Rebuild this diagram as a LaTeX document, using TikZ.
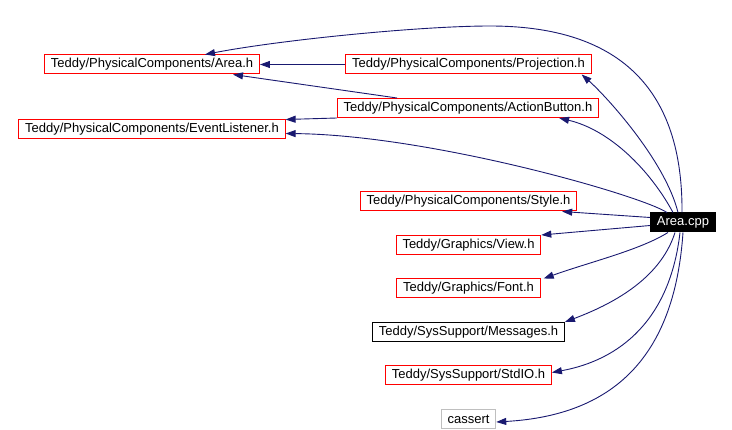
\documentclass[tikz,border=0pt]{standalone}
\usepackage{fontspec}
\setmainfont{Liberation Sans}
\usetikzlibrary{arrows.meta,positioning}
\definecolor{edgeblue}{HTML}{191970}
\definecolor{boxred}{HTML}{FF0000}
\definecolor{boxgray}{HTML}{BFBFBF}
\tikzset{
  header/.style={
    rectangle,
    draw=boxred,
    line width=1pt,
    fill=white,
    inner xsep=6.3pt,
    inner ysep=2pt,
    minimum height=19pt,
    font=\fontsize{13}{15}\selectfont
  },
  plainheader/.style={header, draw=black},
  sysheader/.style={header, draw=boxgray},
  source/.style={header, draw=black, fill=black, text=white},
  dep/.style={-{Triangle[length=10pt,width=7pt]}, draw=edgeblue, line width=0.9pt}
}

\begin{document}
\begin{tikzpicture}[x=1pt, y=-1pt, node distance=23.5pt]
  \useasboundingbox (0,0) rectangle (732,430);
  \node[source] (cpp) at (683,222.5) {Area.cpp};
  \node[header] (areah) at (152,64.5) {Teddy/PhysicalComponents/Area.h};
  \node[header] (proj) at (468.5,64.5) {Teddy/PhysicalComponents/Projection.h};
  \node[header] (action) at (468,108) {Teddy/PhysicalComponents/ActionButton.h};
  \node[header] (evt) at (152,129.5) {Teddy/PhysicalComponents/EventListener.h};
  \node[header] (style) at (468.5,201.5) {Teddy/PhysicalComponents/Style.h};
  \node[header, below=of style] (view) {Teddy/Graphics/View.h};
  \node[header, below=of view] (font) {Teddy/Graphics/Font.h};
  \node[plainheader, below=of font] (msg) {Teddy/SysSupport/Messages.h};
  \node[header, below=of msg] (stdio) {Teddy/SysSupport/StdIO.h};
  \node[sysheader, below=of stdio] (cassert) {cassert};
  \coordinate (bend) at (490,26);

  % includes of Area.cpp
  \draw[dep] ([xshift=-1pt]cpp.north) .. controls (683,80) and (610,26) .. (bend)
    .. controls (420,26) and (280,40) .. ([xshift=53pt]areah.north);
  \draw[dep] ([xshift=-5pt]cpp.north) .. controls (665,160) and (605,95) .. ([xshift=-10pt]proj.south east);
  \draw[dep] ([xshift=-10pt]cpp.north) .. controls (650,170) and (610,130) .. ([xshift=-40pt]action.south east);
  \draw[dep] ([xshift=-16pt]cpp.north) .. controls (640,195) and (430,135) .. ([yshift=-4pt]evt.east);
  \draw[dep] ([yshift=5pt]cpp.west) -- ([xshift=-15pt]style.south east);
  \draw[dep] ([yshift=-3pt]cpp.west) -- (view.north east);
  \draw[dep] ([xshift=-15pt]cpp.south) .. controls (640,250) and (590,262) .. ([xshift=3pt]font.north east);
  \draw[dep] ([xshift=-8pt]cpp.south) .. controls (660,280) and (610,305) .. (msg.north east);
  \draw[dep] ([xshift=-3pt]cpp.south) .. controls (670,320) and (620,360) .. ([yshift=3pt]stdio.east);
  \draw[dep] (cpp.south) .. controls (675,350) and (620,415) .. ([yshift=-3pt]cassert.east);

  % includes between headers
  \draw[dep] (proj) -- (areah);
  \draw[dep] ([xshift=-71pt]action.north) -- ([xshift=81pt]areah.south);
  \draw[dep] (action.south west) -- (evt.north east);
\end{tikzpicture}
\end{document}
